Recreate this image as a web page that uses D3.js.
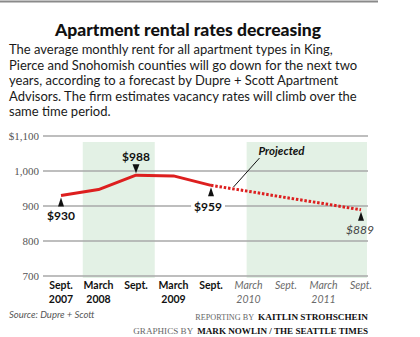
<!DOCTYPE html>
<html>
<head>
<meta charset="utf-8">
<script src="https://cdn.jsdelivr.net/npm/d3@7"></script>
<style>
  html, body { margin: 0; padding: 0; background: #fff; }
  svg { display: block; }
</style>
</head>
<body>
<svg id="chart" width="420" height="337"></svg>
<script>
// ---- data ----
const categories = ["Sept.|2007", "March|2008", "Sept.|", "March|2009", "Sept.|", "March|2010", "Sept.|", "March|2011", "Sept.|"];
const actualValues = [930, 947, 988, 986, 959];
const projectedValues = [959, 942, 924, 907, 889];
const projectedStart = 4;
const yTicks = [700, 800, 900, 1000, 1100];
const yTickLabels = ["700", "800", "900", "1,000", "$1,100"];
const shadedBands = [[0.58, 2.5], [4.95, 8.16]];
const callouts = [
  { i: 0, v: 930, text: "$930", dir: "below", projected: false },
  { i: 2, v: 988, text: "$988", dir: "above", projected: false },
  { i: 4, v: 959, text: "$959", dir: "below", projected: false },
  { i: 8, v: 889, text: "$889", dir: "below", projected: true }
];
const title = "Apartment rental rates decreasing";
const subtitleLines = [
  "The average monthly rent for all apartment types in King,",
  "Pierce and Snohomish counties will go down for the next two",
  "years, according to a forecast by Dupre + Scott Apartment",
  "Advisors. The firm estimates vacancy rates will climb over the",
  "same time period."
];

// ---- layout ----
const svg = d3.select("#chart");
const x = d3.scaleLinear().domain([0, 8]).range([61, 361]);
const y = d3.scaleLinear().domain([700, 1100]).range([276, 136]);
const gridX0 = 43, gridX1 = 368;
const sans = "Lato, 'Open Sans', sans-serif";
const serif = "'Liberation Serif', 'DejaVu Serif', serif";

// top rule
svg.append("line").attr("x1", 0).attr("x2", 378).attr("y1", 1.5).attr("y2", 1.5)
  .attr("stroke", "#8a8a8a").attr("stroke-width", 2);

// title
svg.append("text").attr("x", 188).attr("y", 36).attr("text-anchor", "middle")
  .attr("font-family", sans).attr("font-weight", 900).attr("font-size", 17.5)
  .attr("fill", "#111").text(title);

// subtitle
svg.append("g").selectAll("text").data(subtitleLines).join("text")
  .attr("x", 9).attr("y", (d, i) => 54 + i * 15.5)
  .attr("font-family", sans).attr("font-size", 13).attr("fill", "#1a1a1a")
  .text(d => d);

// shaded bands
svg.append("g").selectAll("rect").data(shadedBands).join("rect")
  .attr("x", d => x(d[0])).attr("width", d => x(d[1]) - x(d[0]))
  .attr("y", 142).attr("height", 136)
  .attr("fill", "#e3f1e5");

// gridlines
svg.append("g").selectAll("line").data(yTicks).join("line")
  .attr("x1", gridX0).attr("x2", gridX1)
  .attr("y1", d => y(d)).attr("y2", d => y(d))
  .attr("stroke", "#a9a9a9").attr("stroke-width", 1.5);

// y tick labels
svg.append("g").selectAll("text").data(yTicks).join("text")
  .attr("x", 39).attr("y", d => y(d) + 4).attr("text-anchor", "end")
  .attr("font-family", serif).attr("font-size", 11).attr("fill", "#555")
  .text((d, i) => yTickLabels[i]);

// x labels
const xl = svg.append("g");
categories.forEach((c, i) => {
  const [a, b] = c.split("|");
  const proj = i > projectedStart;
  const attrs = s => s.attr("text-anchor", "middle").attr("font-family", sans)
    .attr("font-size", 10.5)
    .attr("font-weight", proj ? 400 : 700)
    .attr("font-style", proj ? "italic" : "normal")
    .attr("fill", proj ? "#6a6a6a" : "#111");
  xl.append("text").attr("x", x(i)).attr("y", 289).call(attrs).text(a);
  if (b) xl.append("text").attr("x", x(i)).attr("y", 302.5).call(attrs).text(b);
});

// lines
const line = d3.line().x(d => x(d[0])).y(d => y(d[1]));
svg.append("path")
  .datum(actualValues.map((v, i) => [i, v]))
  .attr("d", line).attr("fill", "none")
  .attr("stroke", "#dd1f1f").attr("stroke-width", 3).attr("stroke-linejoin", "round");
svg.append("path")
  .datum(projectedValues.map((v, i) => [i + projectedStart, v]))
  .attr("d", line).attr("fill", "none")
  .attr("stroke", "#dd1f1f").attr("stroke-width", 3).attr("stroke-dasharray", "2.5,1.8");

// projected leader + label
const li = 4.6;
const lv = projectedValues[0] + (projectedValues[4] - projectedValues[0]) * (li - projectedStart) / 4;
svg.append("line")
  .attr("x1", x(li)).attr("y1", y(lv) - 2)
  .attr("x2", x(li) + 26).attr("y2", y(lv) - 31)
  .attr("stroke", "#111").attr("stroke-width", 1);
svg.append("text").attr("x", x(li) + 25).attr("y", y(lv) - 34)
  .attr("font-family", sans).attr("font-weight", 700).attr("font-style", "italic")
  .attr("font-size", 11.5).attr("fill", "#111").text("Projected");

// callouts
const cg = svg.append("g");
callouts.forEach(c => {
  const px = x(c.i), py = y(c.v);
  let tri;
  if (c.dir === "below") {
    tri = `M${px},${py + 2}L${px - 3},${py + 11}L${px + 3},${py + 11}Z`;
  } else {
    tri = `M${px},${py - 2}L${px - 3.5},${py - 11}L${px + 3.5},${py - 11}Z`;
  }
  const ty = c.dir === "below" ? (c.i === 4 ? py + 26 : py + 24) : py - 14;
  const tx = c.i === 4 ? px - 3 : (c.i === 8 ? px - 1 : px);
  const t = cg.append("text").attr("x", tx).attr("y", ty).attr("text-anchor", "middle")
    .attr("font-family", sans).attr("font-size", 12)
    .attr("font-weight", c.projected ? 400 : 700)
    .attr("font-style", c.projected ? "italic" : "normal")
    .attr("fill", c.projected ? "#444" : "#111").text(c.text);
  if (c.i === 4) {
    const bb = t.node().getBBox();
    cg.insert("rect", () => t.node())
      .attr("x", bb.x - 3).attr("y", bb.y).attr("width", bb.width + 6).attr("height", bb.height)
      .attr("fill", "#fff");
  }
  cg.append("path").attr("d", tri).attr("fill", "#111");
});

// footer
svg.append("text").attr("x", 9).attr("y", 318)
  .attr("font-family", sans).attr("font-style", "italic").attr("font-size", 9.5)
  .attr("fill", "#555").text("Source: Dupre + Scott");

function fitText(sel, target, base) {
  const w = sel.node().getComputedTextLength();
  sel.attr("font-size", Math.min(10.5, Math.max(8, base * target / w)));
  return sel.node().getComputedTextLength();
}
function credit(yPos, light, bold, boldW, lightW) {
  const b = svg.append("text").attr("x", 368).attr("y", yPos).attr("text-anchor", "end")
    .attr("font-family", serif).attr("font-weight", 700).attr("font-size", 9)
    .attr("fill", "#111").text(bold);
  const bw = fitText(b, boldW, 9);
  const l = svg.append("text").attr("x", 368 - bw - 4).attr("y", yPos).attr("text-anchor", "end")
    .attr("font-family", serif).attr("font-size", 9)
    .attr("fill", "#666").text(light);
  fitText(l, lightW, 9);
}
credit(320, "REPORTING BY", "KAITLIN STROHSCHEIN", 110, 59);
credit(333.5, "GRAPHICS BY", "MARK NOWLIN / THE SEATTLE TIMES", 171, 60);
</script>
</body>
</html>
